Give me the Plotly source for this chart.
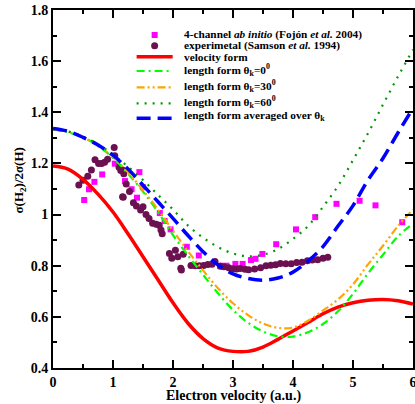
import plotly.graph_objects as go

# ---- data ----
v_grid = [0, 0.25, 0.5, 0.75, 1.0, 1.25, 1.5, 1.75, 2.0, 2.25, 2.5, 2.75, 3.0,
          3.25, 3.5, 3.75, 4.0, 4.25, 4.5, 4.75, 5.0, 5.25, 5.5, 5.75, 6.0]

velocity_form = [1.19, 1.178, 1.138, 1.08, 1.01, 0.925, 0.835, 0.745, 0.655, 0.575, 0.515, 0.478, 0.465,
                 0.465, 0.482, 0.512, 0.545, 0.578, 0.612, 0.638, 0.655, 0.665, 0.668, 0.663, 0.650]
length_0 = [1.332, 1.322, 1.302, 1.268, 1.222, 1.16, 1.09, 1.01, 0.92, 0.84, 0.765, 0.692, 0.627,
            0.577, 0.543, 0.524, 0.523, 0.54, 0.572, 0.622, 0.69, 0.77, 0.843, 0.915, 0.965]
length_30 = [1.334, 1.324, 1.304, 1.27, 1.225, 1.165, 1.095, 1.02, 0.937, 0.857, 0.782, 0.712, 0.653,
             0.607, 0.574, 0.557, 0.558, 0.585, 0.625, 0.668, 0.727, 0.805, 0.878, 0.955, 1.02]
length_60 = [1.335, 1.325, 1.305, 1.275, 1.235, 1.187, 1.135, 1.077, 1.02, 0.957, 0.91, 0.873, 0.848,
             0.837, 0.843, 0.865, 0.905, 0.955, 1.03, 1.112, 1.213, 1.318, 1.43, 1.54, 1.645]
length_avg = [1.337, 1.326, 1.302, 1.272, 1.232, 1.178, 1.115, 1.05, 0.985, 0.918, 0.855, 0.803, 0.768,
              0.75, 0.743, 0.752, 0.775, 0.818, 0.875, 0.955, 1.035, 1.135, 1.22, 1.32, 1.416]

abinitio_v = [0.52, 0.60, 0.69, 0.82, 1.03, 1.20, 1.31, 1.40, 1.44, 1.50, 1.78, 1.86, 1.96, 2.23,
              2.43, 2.79, 2.89, 3.04, 3.16, 3.30, 3.375, 3.49, 3.72, 4.05, 4.37, 4.725, 5.11, 5.375, 5.82]
abinitio_r = [1.057, 1.099, 1.128, 1.157, 1.199, 1.131, 1.099, 1.066, 1.166, 1.107, 1.006, 0.975, 0.942, 0.874,
              0.84, 0.80, 0.80, 0.807, 0.807, 0.822, 0.827, 0.846, 0.884, 0.942, 0.99, 1.042, 1.054, 1.036, 0.97]

exp_v = [0.43, 0.50, 0.58, 0.64, 0.70, 0.76, 0.81, 0.86, 0.91, 1.02, 1.03, 1.10, 1.13, 1.16, 1.18,
         1.22, 1.16, 1.275, 1.17, 1.34, 1.39, 1.46, 1.50, 1.55, 1.60, 1.66, 1.72, 1.77, 1.80, 1.82,
         1.94, 1.98, 2.04, 2.08, 2.13, 2.14, 2.17, 2.30, 2.37, 2.44, 2.51, 2.58, 2.65, 2.70, 2.79,
         2.85, 2.93, 3.00, 3.06, 3.12, 3.20, 3.26, 3.36, 3.46, 3.55, 3.63, 3.71, 3.79, 3.88, 3.97,
         4.06, 4.15, 4.24, 4.32, 4.41, 4.50, 4.58]
exp_r = [1.116, 1.134, 1.150, 1.174, 1.214, 1.200, 1.200, 1.205, 1.216, 1.262, 1.230, 1.185, 1.172, 1.174, 1.160,
         1.120, 1.070, 1.09, 1.068, 1.046, 1.034, 1.018, 1.031, 1.000, 0.985, 0.966, 0.962, 0.958, 0.94, 0.925,
         0.848, 0.829, 0.860, 0.835, 0.790, 0.783, 0.845, 0.801, 0.800, 0.800, 0.801, 0.805, 0.806, 0.816, 0.798,
         0.796, 0.792, 0.788, 0.787, 0.789, 0.786, 0.784, 0.787, 0.792, 0.800, 0.802, 0.804, 0.809, 0.808, 0.808,
         0.813, 0.814, 0.819, 0.822, 0.823, 0.829, 0.833]

x_ticks = [0, 1, 2, 3, 4, 5, 6]
y_ticks = [0.4, 0.6, 0.8, 1.0, 1.2, 1.4, 1.6, 1.8]
y_ticklabels = ["0.4", "0.6", "0.8", "1", "1.2", "1.4", "1.6", "1.8"]

legend_labels = [
    "4-channel <i>ab initio</i> (Fojón <i>et al.</i> 2004)",
    "experimetal (Samson <i>et al.</i> 1994)",
    "velocity form",
    "length form θ<sub>k</sub>=0<sup>0</sup>",
    "length form θ<sub>k</sub>=30<sup>0</sup>",
    "length form θ<sub>k</sub>=60<sup>0</sup>",
    "length form averaged over θ<sub>k</sub>",
]

FONT = "Liberation Serif"
C_SQ, C_CIRC = "#ff00ff", "#6b1050"
C_RED, C_G0, C_O30, C_G60, C_AVG = "#ff0000", "#00ff00", "#ffa500", "#009900", "#0000ff"
D_G0, D_O30, D_G60, D_AVG = "8px,4px,2px,4px", "8px,3px,2px,3px,2px,3px", "2px,6px", "14px,7px"

fig = go.Figure()
fig.add_trace(go.Scatter(x=abinitio_v, y=abinitio_r, mode="markers",
                         marker=dict(symbol="square", size=6, color=C_SQ), name=legend_labels[0]))
fig.add_trace(go.Scatter(x=exp_v, y=exp_r, mode="markers",
                         marker=dict(symbol="circle", size=7, color=C_CIRC), name=legend_labels[1]))
fig.add_trace(go.Scatter(x=v_grid, y=velocity_form, mode="lines", line_shape="spline",
                         line=dict(color=C_RED, width=3.5), name=legend_labels[2]))
fig.add_trace(go.Scatter(x=v_grid, y=length_0, mode="lines", line_shape="spline",
                         line=dict(color=C_G0, width=2.2, dash=D_G0), name=legend_labels[3]))
fig.add_trace(go.Scatter(x=v_grid, y=length_30, mode="lines", line_shape="spline",
                         line=dict(color=C_O30, width=2.2, dash=D_O30), name=legend_labels[4]))
fig.add_trace(go.Scatter(x=v_grid, y=length_60, mode="lines", line_shape="spline",
                         line=dict(color=C_G60, width=2.2, dash=D_G60), name=legend_labels[5]))
fig.add_trace(go.Scatter(x=v_grid, y=length_avg, mode="lines", line_shape="spline",
                         line=dict(color=C_AVG, width=3.5, dash=D_AVG), name=legend_labels[6]))

# ---- manual legend (layout: paper coordinates) ----
L, T, B = 53.5, 10.0, 368.0
W, H = 413.0 - L, B - T
def px(x):
    return (x - L) / W
def py(y):
    return (B - y) / H

row_y = [35, 45.7, 56.7, 71, 87.3, 103.3, 118.3]
key_x0, key_x1, key_mid, text_x = 137, 173, 155, 182
shapes = []
shapes.append(dict(type="rect", xref="paper", yref="paper",
                   x0=px(key_mid - 3), x1=px(key_mid + 3), y0=py(row_y[0] + 3), y1=py(row_y[0] - 3),
                   fillcolor=C_SQ, line=dict(width=0)))
shapes.append(dict(type="circle", xref="paper", yref="paper",
                   x0=px(key_mid - 3.5), x1=px(key_mid + 3.5), y0=py(row_y[1] + 3.5), y1=py(row_y[1] - 3.5),
                   fillcolor=C_CIRC, line=dict(width=0)))
line_keys = [(C_RED, 3.5, "solid"), (C_G0, 2.2, D_G0), (C_O30, 2.2, D_O30),
             (C_G60, 2.2, D_G60), (C_AVG, 3.5, D_AVG)]
for i, (c, w, d) in enumerate(line_keys):
    yy = row_y[i + 2]
    shapes.append(dict(type="line", xref="paper", yref="paper",
                       x0=px(key_x0), x1=px(key_x1), y0=py(yy), y1=py(yy),
                       line=dict(color=c, width=w, dash=d)))

annotations = []
text_dy = [0, 0, 0, -1, -1, -1, -2]
for i, lab in enumerate(legend_labels):
    annotations.append(dict(xref="paper", yref="paper", x=px(text_x), y=py(row_y[i] + text_dy[i]),
                            xanchor="left", yanchor="middle", showarrow=False,
                            text="<b>%s</b>" % lab,
                            font=dict(family=FONT, size=11.3, color="black")))
annotations.append(dict(xref="paper", yref="paper", x=0.5, y=py(396), xanchor="center", yanchor="middle",
                        showarrow=False, text="<b>Electron velocity (a.u.)</b>",
                        font=dict(family=FONT, size=14, color="black")))
annotations.append(dict(xref="paper", yref="paper", x=px(20), y=py(180), xanchor="center", yanchor="middle",
                        showarrow=False, textangle=-90, text="<b>σ(H<sub>2</sub>)/2σ(H)</b>",
                        font=dict(family=FONT, size=13, color="black")))

axis_common = dict(showline=True, linecolor="black", linewidth=1.8, mirror="ticks",
                   ticks="inside", ticklen=8, tickwidth=1.5, tickcolor="black",
                   showgrid=False, zeroline=False, automargin=False, ticklabeloverflow="allow",
                   tickfont=dict(family=FONT, size=14, color="black"))

fig.update_xaxes(range=[0, 6], tickvals=x_ticks, ticktext=["<b>%d</b>" % t for t in x_ticks],
                 minor=dict(dtick=0.5, ticks="inside", ticklen=4, tickwidth=1.5, tickcolor="black"),
                 **axis_common)
fig.update_yaxes(range=[0.4, 1.8], tickvals=y_ticks, ticktext=["<b>%s</b>" % t for t in y_ticklabels],
                 minor=dict(dtick=0.1, ticks="inside", ticklen=4, tickwidth=1.5, tickcolor="black"),
                 **axis_common)

fig.update_layout(
    width=415, height=404, autosize=False,
    margin=dict(l=53, r=2, t=10, b=36, autoexpand=False),
    paper_bgcolor="white", plot_bgcolor="white",
    font=dict(family=FONT, color="black"),
    showlegend=False,
    shapes=shapes,
    annotations=annotations,
)

post = ("document.documentElement.style.overflow='hidden';"
        "document.body.style.margin='0px';document.body.style.padding='0px';"
        "document.body.style.overflow='hidden';"
        "var gd=document.getElementById('{plot_id}');"
        "Plotly.relayout(gd,{width:415,height:404});")
fig.write_html("out.html", post_script=post,
               config={"displayModeBar": False, "responsive": False})
